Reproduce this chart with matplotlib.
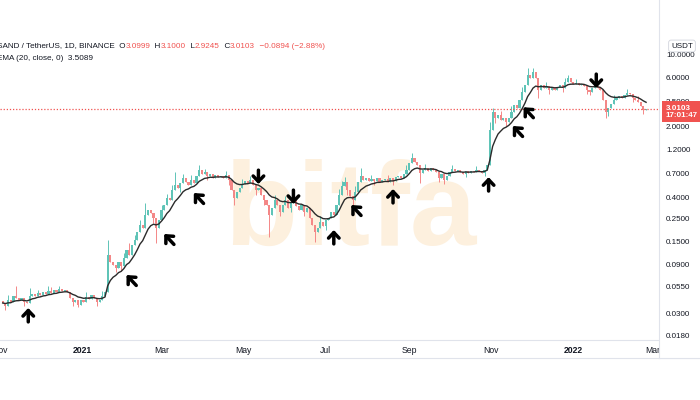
import matplotlib
matplotlib.use("Agg")
import matplotlib.pyplot as plt
import matplotlib.dates as mdates
from matplotlib.lines import Line2D
import numpy as np
import pandas as pd

# --- data (2-day candles, SAND/USDT) ---
start_date = "2020-11-03"
first_open = 0.0400
closes = [
    0.0386, 0.0361, 0.0413, 0.0395, 0.0452, 0.0432, 0.0413, 0.0432, 0.0395, 0.0386,
    0.0452, 0.0473, 0.0452, 0.0483, 0.0462, 0.0494, 0.0473, 0.0506, 0.0483, 0.0517,
    0.0494, 0.0529, 0.0506, 0.0517, 0.0494, 0.0432, 0.0395, 0.0413, 0.0369, 0.0413,
    0.0395, 0.0442, 0.0422, 0.0462, 0.0432, 0.0395, 0.0413, 0.0452, 0.0494, 0.1135,
    0.0969, 0.0906, 0.0847, 0.0969, 0.0886, 0.1061, 0.127, 0.1135, 0.142, 0.159,
    0.190, 0.223, 0.2085, 0.279, 0.312, 0.292, 0.260, 0.208, 0.249, 0.312,
    0.349, 0.408, 0.390, 0.489, 0.547, 0.511, 0.572, 0.638, 0.585, 0.547,
    0.610, 0.572, 0.668, 0.770, 0.700, 0.732, 0.668, 0.700, 0.638, 0.685,
    0.653, 0.668, 0.638, 0.685, 0.610, 0.489, 0.408, 0.467, 0.511, 0.559,
    0.598, 0.572, 0.610, 0.547, 0.489, 0.511, 0.437, 0.390, 0.349, 0.279,
    0.326, 0.390, 0.349, 0.299, 0.349, 0.390, 0.326, 0.365, 0.390, 0.341,
    0.312, 0.349, 0.299, 0.326, 0.260, 0.223, 0.190, 0.2085, 0.238, 0.218,
    0.249, 0.260, 0.299, 0.279, 0.349, 0.437, 0.535, 0.585, 0.489, 0.427,
    0.390, 0.467, 0.585, 0.668, 0.610, 0.638, 0.598, 0.624, 0.598, 0.638,
    0.585, 0.610, 0.624, 0.585, 0.638, 0.598, 0.653, 0.668, 0.638, 0.700,
    0.770, 0.900, 1.005, 0.920, 0.860, 0.716, 0.770, 0.805, 0.749, 0.805,
    0.770, 0.732, 0.638, 0.700, 0.610, 0.668, 0.732, 0.787, 0.749, 0.770,
    0.732, 0.700, 0.749, 0.716, 0.749, 0.732, 0.770, 0.749, 0.716, 0.770,
    0.860, 1.88, 2.82, 2.47, 2.64, 2.36, 2.47, 2.26, 2.47, 2.82,
    3.30, 3.08, 3.70, 4.43, 5.18, 6.47, 6.05, 6.92, 6.05, 4.63,
    5.18, 4.84, 5.07, 4.63, 4.84, 4.63, 4.95, 5.18, 4.84, 5.54,
    6.05, 5.54, 5.30, 5.42, 5.18, 5.30, 5.07, 4.63, 4.43, 4.84,
    5.07, 4.84, 4.63, 3.70, 2.82, 3.08, 3.38, 3.70, 3.87, 4.05,
    3.87, 4.14, 4.33, 4.24, 3.87, 3.70, 3.54, 3.22, 2.95, 3.0103,
]
# candle index -> wick extreme (candles without an entry have no wick)
wick_highs = {2: 0.046, 5: 0.0566, 10: 0.0541, 13: 0.052, 17: 0.056, 18: 0.0553,
              21: 0.057, 31: 0.049, 37: 0.050, 39: 0.159, 45: 0.12, 47: 0.149,
              49: 0.178, 51: 0.25, 53: 0.365, 59: 0.35, 61: 0.45, 63: 0.55,
              64: 0.732, 67: 0.70, 70: 0.68, 73: 0.86, 75: 0.79, 83: 0.75,
              89: 0.62, 92: 0.67, 101: 0.44, 105: 0.43, 108: 0.43, 118: 0.27,
              125: 0.50, 126: 0.60, 127: 0.653, 131: 0.53, 133: 0.805, 137: 0.68,
              143: 0.69, 150: 0.86, 152: 1.12, 157: 0.88, 167: 0.85, 176: 0.83,
              181: 2.26, 182: 3.08, 185: 2.9, 189: 3.2, 193: 5.0, 195: 7.58,
              197: 7.6, 202: 5.6, 209: 6.1, 210: 6.47, 213: 5.9, 220: 5.5,
              227: 4.1, 232: 4.7, 236: 4.0}
wick_lows = {1: 0.033, 8: 0.036, 26: 0.036, 28: 0.0353, 35: 0.036, 42: 0.077,
             44: 0.080, 56: 0.235, 57: 0.149, 66: 0.47, 76: 0.61, 84: 0.55,
             86: 0.349, 94: 0.44, 97: 0.35, 99: 0.170, 103: 0.27, 107: 0.30,
             112: 0.27, 116: 0.152, 120: 0.20, 128: 0.44, 130: 0.349, 138: 0.55,
             145: 0.55, 155: 0.572, 162: 0.58, 164: 0.56, 172: 0.65, 179: 0.67,
             183: 2.2, 187: 2.05, 199: 3.87, 203: 4.25, 208: 4.45, 217: 4.25,
             218: 4.1, 224: 2.47, 225: 2.6, 234: 3.55, 238: 2.72}

arrow_dates = ["2020-11-22", "2021-02-03", "2021-03-03", "2021-03-25", "2021-05-12",
               "2021-06-07", "2021-07-07", "2021-07-20", "2021-08-20", "2021-10-30",
               "2021-11-17", "2021-11-25", "2022-01-18"]
arrow_prices = [0.0345, 0.0724, 0.182, 0.457, 0.559, 0.357, 0.199, 0.349, 0.50,
                0.653, 2.06, 3.14, 4.84]
arrow_dirs = ["up", "nw", "nw", "nw", "down", "down", "up", "nw", "up", "up",
              "nw", "nw", "down"]

price_ticks = [10, 6, 3.5, 2, 1.2, 0.7, 0.4, 0.25, 0.15, 0.09, 0.055, 0.03, 0.018]
tick_dates = ["2020-11-01", "2021-01-01", "2021-03-01", "2021-05-01", "2021-07-01",
              "2021-09-01", "2021-11-01", "2022-01-01", "2022-03-01"]
tick_labels = ["Nov", "2021", "Mar", "May", "Jul", "Sep", "Nov", "2022", "Mar"]
last_price = 3.0103

# --- derived candle arrays ---
dates = pd.date_range(start_date, periods=len(closes), freq="2D")
xs = mdates.date2num(dates)
opens = [first_open] + closes[:-1]
highs = [max(o, c) for o, c in zip(opens, closes)]
lows = [min(o, c) for o, c in zip(opens, closes)]
for k, v in wick_highs.items():
    highs[k] = v
for k, v in wick_lows.items():
    lows[k] = v
ema = pd.Series(closes).ewm(span=10, adjust=False).mean()

UP, DOWN = "#5fc4b7", "#f48787"
cols = [UP if c >= o else DOWN for o, c in zip(opens, closes)]
bottoms = [min(o, c) for o, c in zip(opens, closes)]
heights = [max(abs(c - o), min(o, c) * 0.01) for o, c in zip(opens, closes)]

plt.rcParams["font.family"] = ["Liberation Sans", "DejaVu Sans"]
TXT = "#131722"
RED = "#f05350"
SMALL = 5.8
YLIM = (0.01681, 34.97)

fig = plt.figure(figsize=(7, 4), dpi=100, facecolor="white")
ax = fig.add_axes([0, 60 / 400, 659 / 700, 340 / 400])
ax.set_yscale("log")
ax.set_ylim(*YLIM)
base = mdates.date2num(pd.Timestamp("2021-01-01"))
ax.set_xlim(base - 59.2, base + 428.6)

ax.text(0.531, 0.37, "bitfa", transform=ax.transAxes, fontsize=86, fontweight="bold",
        color="#fdf0de", ha="center", va="center", zorder=0.5)

ax.vlines(xs, lows, highs, colors=cols, lw=0.7, zorder=1)
ax.bar(xs, heights, bottom=bottoms, width=1.6, color=cols, linewidth=0, zorder=1.1)
ax.plot(xs, ema, color="#2b2b2b", lw=1.0, zorder=2)
ax.axhline(last_price, color=RED, lw=0.9, ls=(0, (1, 1.5)), zorder=1.5)

offsets = {"up": (0, -10), "down": (0, 10), "nw": (7, -7.5)}
for d, p, k in zip(arrow_dates, arrow_prices, arrow_dirs):
    ax.annotate("", xy=(mdates.date2num(pd.Timestamp(d)), p), xytext=offsets[k],
                textcoords="offset points",
                arrowprops=dict(arrowstyle="->,head_length=0.4,head_width=0.38",
                                lw=2.5, color="black", shrinkA=0, shrinkB=0),
                zorder=5)

ax.set_xticks(mdates.date2num(pd.to_datetime(tick_dates)))
ax.set_xticklabels(tick_labels, fontsize=6.2, color=TXT)
for lab in ax.get_xticklabels():
    if lab.get_text().isdigit():
        lab.set_fontweight("bold")
ax.tick_params(axis="x", length=0, pad=4.5)
ax.tick_params(axis="y", which="both", left=False, labelleft=False)
for s in ["top", "right", "left"]:
    ax.spines[s].set_visible(False)
ax.spines["bottom"].set_color("#e0e3eb")
ax.spines["bottom"].set_linewidth(0.8)
fig.add_artist(Line2D([0, 1], [42 / 400, 42 / 400], color="#e0e3eb", lw=0.8))

# price scale panel
ax2 = fig.add_axes([659 / 700, 42 / 400, 41 / 700, 358 / 400])
ax2.set_zorder(2)
ax2.set_facecolor("white")
ax2.set_yscale("log")
ax2.set_ylim(0.01122, 34.97)
ax2.set_xlim(0, 1)
ax2.tick_params(which="both", left=False, bottom=False, labelleft=False, labelbottom=False)
for s in ["top", "right"]:
    ax2.spines[s].set_visible(False)
for s in ["left", "bottom"]:
    ax2.spines[s].set_color("#e0e3eb")
    ax2.spines[s].set_linewidth(0.8)
for v in price_ticks:
    ax2.text(0.17, v, f"{v:.4f}", fontsize=SMALL, color=TXT, va="center", ha="left")
ax2.annotate(f"{last_price:.4f}\n17:01:47", xy=(0.16, last_price), xytext=(0, 3.2),
             textcoords="offset points", va="top", ha="left", fontsize=SMALL,
             color="white", fontweight="bold", linespacing=1.1,
             bbox=dict(boxstyle="square,pad=0.4", fc=RED, ec="none"))
fig.text(682 / 700, 1 - 46 / 400, "USDT", fontsize=SMALL, color=TXT, ha="center", va="center",
         bbox=dict(boxstyle="round,pad=0.3", fc="white", ec="#d1d4dc", lw=0.6), zorder=6)

# legend lines
renderer = fig.canvas.get_renderer()


def draw_pieces(x_px, y_px, pieces):
    for s, c in pieces:
        t = fig.text(x_px / 700, 1 - y_px / 400, s, color=c, fontsize=5.9, va="center",
                     ha="left")
        x_px += t.get_window_extent(renderer).width


draw_pieces(-3, 46, [("SAND / TetherUS, 1D, BINANCE  O", TXT), ("3.0999", RED),
                     ("  H", TXT), ("3.1000", RED), ("  L", TXT), ("2.9245", RED),
                     ("  C", TXT), ("3.0103", RED), ("  \u22120.0894 (\u22122.88%)", RED)])
draw_pieces(-3, 58, [("EMA (20, close, 0)  3.5089", TXT)])

fig.savefig("out.png", dpi=100)
